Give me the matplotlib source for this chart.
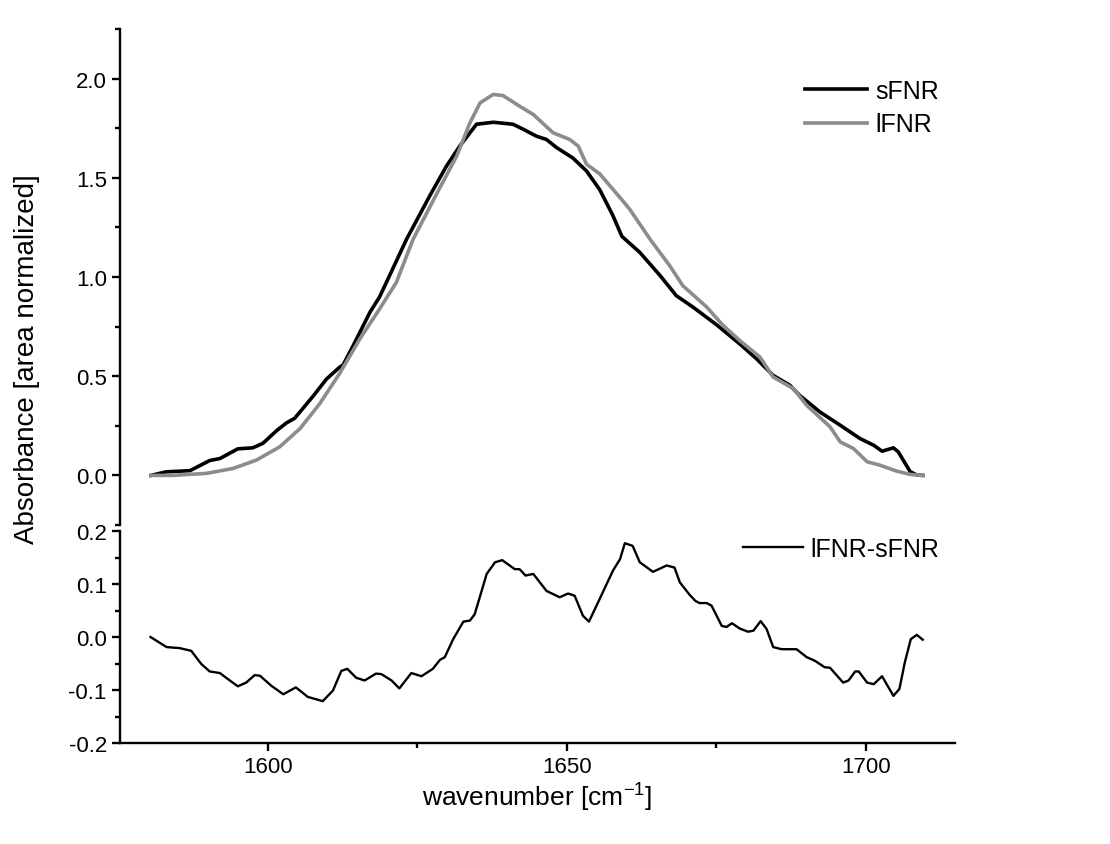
import matplotlib
matplotlib.use("Agg")
import matplotlib.pyplot as plt
from matplotlib.ticker import MultipleLocator

plt.rcParams['font.family'] = ['Liberation Sans', 'DejaVu Sans']

# sFNR spectrum (black)
s_wn = [1580.5, 1583.0, 1587.0, 1590.3, 1592.0, 1595.0, 1597.5, 1599.2, 1601.5, 1603.1,
        1604.5, 1607.6, 1609.8, 1612.0, 1612.6, 1614.3, 1617.1, 1618.7, 1620.1, 1623.2,
        1627.1, 1629.9, 1632.1, 1634.9, 1637.7, 1641.0, 1642.7, 1644.9, 1646.6, 1648.3,
        1651.0, 1653.3, 1655.5, 1657.7, 1659.2, 1662.2, 1665.6, 1668.3, 1671.1, 1675.0,
        1678.9, 1681.7, 1684.5, 1687.3, 1688.9, 1692.3, 1695.7, 1699.0, 1701.3, 1702.7,
        1704.6, 1705.4, 1707.4, 1708.5, 1709.5]
s_abs = [0.0, 0.018, 0.024, 0.075, 0.085, 0.134, 0.139, 0.162, 0.226, 0.264,
         0.288, 0.40, 0.485, 0.545, 0.557, 0.655, 0.823, 0.900, 0.99, 1.19,
         1.41, 1.56, 1.66, 1.77, 1.78, 1.77, 1.745, 1.71, 1.693, 1.652,
         1.60, 1.534, 1.44, 1.31, 1.205, 1.124, 1.007, 0.906, 0.848, 0.76,
         0.663, 0.588, 0.504, 0.454, 0.404, 0.32, 0.253, 0.186, 0.152, 0.122,
         0.139, 0.119, 0.019, 0.002, 0.0]

# lFNR spectrum (grey)
l_wn = [1580.5, 1584.0, 1589.7, 1594.2, 1598.1, 1602.0, 1605.4, 1608.7, 1612.0, 1615.4,
        1618.7, 1621.5, 1624.3, 1628.2, 1631.6, 1633.8, 1635.5, 1637.7, 1639.3, 1642.1,
        1644.4, 1647.7, 1650.5, 1651.9, 1653.3, 1655.5, 1658.9, 1660.5, 1663.9, 1667.2,
        1669.4, 1673.4, 1676.0, 1678.9, 1682.3, 1684.5, 1687.9, 1690.1, 1694.0, 1695.7,
        1697.9, 1700.2, 1702.3, 1705.1, 1707.4, 1709.5]
l_abs = [0.0, 0.0, 0.01, 0.035, 0.077, 0.144, 0.236, 0.362, 0.513, 0.688,
         0.839, 0.973, 1.19, 1.417, 1.61, 1.777, 1.878, 1.92, 1.915, 1.861,
         1.819, 1.727, 1.693, 1.66, 1.568, 1.52, 1.40, 1.342, 1.191, 1.057,
         0.956, 0.848, 0.76, 0.68, 0.596, 0.496, 0.437, 0.353, 0.245, 0.169,
         0.136, 0.069, 0.052, 0.022, 0.005, 0.0]

# difference lFNR - sFNR
d_wn = [1580.4, 1583.1, 1585.3, 1587.2, 1588.9, 1590.3, 1592.0, 1593.3, 1595.0, 1596.4,
        1597.8, 1598.7, 1600.6, 1602.6, 1604.7, 1606.7, 1609.2, 1610.9, 1612.3, 1613.3,
        1614.8, 1616.2, 1618.1, 1619.0, 1620.7, 1622.0, 1624.0, 1625.7, 1627.6, 1628.8,
        1629.6, 1631.0, 1632.7, 1633.8, 1634.6, 1636.6, 1638.0, 1639.2, 1641.3, 1642.1,
        1643.1, 1644.4, 1646.6, 1648.8, 1650.2, 1651.3, 1652.7, 1653.7, 1655.5, 1657.7,
        1658.9, 1659.7, 1661.0, 1662.2, 1664.4, 1666.7, 1668.0, 1668.9, 1670.5, 1671.5,
        1672.2, 1673.4, 1674.2, 1675.9, 1676.7, 1677.6, 1678.9, 1680.3, 1681.2, 1682.4,
        1683.4, 1684.5, 1685.9, 1688.4, 1690.1, 1691.5, 1693.1, 1694.0, 1696.2, 1697.1,
        1698.2, 1698.8, 1700.2, 1701.3, 1702.7, 1704.6, 1705.6, 1706.5, 1707.5, 1708.5,
        1709.5]
d_abs = [0.0, -0.019, -0.021, -0.026, -0.051, -0.065, -0.068, -0.079, -0.093, -0.086,
         -0.072, -0.073, -0.092, -0.108, -0.095, -0.113, -0.121, -0.101, -0.064, -0.060,
         -0.077, -0.082, -0.069, -0.070, -0.082, -0.097, -0.068, -0.074, -0.060, -0.043,
         -0.038, -0.004, 0.029, 0.031, 0.043, 0.119, 0.141, 0.145, 0.128, 0.128,
         0.116, 0.119, 0.087, 0.075, 0.082, 0.078, 0.040, 0.029, 0.072, 0.125,
         0.147, 0.177, 0.172, 0.141, 0.123, 0.135, 0.131, 0.103, 0.080, 0.068,
         0.064, 0.064, 0.059, 0.021, 0.019, 0.026, 0.016, 0.010, 0.012, 0.030,
         0.015, -0.019, -0.023, -0.023, -0.038, -0.045, -0.057, -0.058, -0.086, -0.082,
         -0.065, -0.065, -0.086, -0.089, -0.074, -0.111, -0.098, -0.048, -0.004, 0.004,
         -0.005]

fig = plt.figure(figsize=(11.1, 8.45), dpi=100)
ax1 = fig.add_axes([0.1081, 0.3775, 0.7523, 0.587])
ax2 = fig.add_axes([0.1081, 0.1195, 0.7523, 0.2509])

ax1.plot(s_wn, s_abs, color='black', lw=2.6, label='sFNR')
ax1.plot(l_wn, l_abs, color='#8c8c8c', lw=2.6, label='lFNR')
ax2.plot(d_wn, d_abs, color='black', lw=1.7, label='lFNR-sFNR')

for ax in (ax1, ax2):
    ax.set_xlim(1575.3, 1714.9)
    for sp in ('top', 'right'):
        ax.spines[sp].set_visible(False)
    ax.spines['left'].set_linewidth(1.7)
    ax.spines['bottom'].set_linewidth(1.7)
    ax.tick_params(which='major', direction='out', length=6, width=1.7, labelsize=16)
    ax.tick_params(which='minor', direction='out', length=3.6, width=1.7)
    ax.xaxis.set_major_locator(MultipleLocator(50))
    ax.xaxis.set_minor_locator(MultipleLocator(25))

ax1.set_ylim(-0.25, 2.25)
ax1.yaxis.set_major_locator(MultipleLocator(0.5))
ax1.yaxis.set_minor_locator(MultipleLocator(0.25))
ax1.yaxis.set_major_formatter(lambda v, p: f"{v:.1f}")
ax1.spines['bottom'].set_visible(False)
ax1.tick_params(axis='x', which='both', bottom=False, labelbottom=False)

ax2.set_ylim(-0.2, 0.2)
ax2.yaxis.set_major_locator(MultipleLocator(0.1))
ax2.yaxis.set_minor_locator(MultipleLocator(0.05))
ax2.yaxis.set_major_formatter(lambda v, p: f"{v:.1f}")

ax1.legend(loc='upper left', bbox_to_anchor=(0.82, 0.899), frameon=False, fontsize=18,
           borderpad=0, borderaxespad=0, handlelength=2.5, handletextpad=0.32,
           labelspacing=0.37)
ax2.legend(loc='upper left', bbox_to_anchor=(0.746, 0.972), frameon=False, fontsize=18,
           borderpad=0, borderaxespad=0, handlelength=2.4, handletextpad=0.28)

ax2.set_xlabel('wavenumber [cm$^{\\mathregular{-1}}$]', fontsize=19, labelpad=1)
fig.text(0.024, 0.575, 'Absorbance [area normalized]', rotation=90, fontsize=20,
         ha='center', va='center')

fig.savefig('out.png', dpi=100)
